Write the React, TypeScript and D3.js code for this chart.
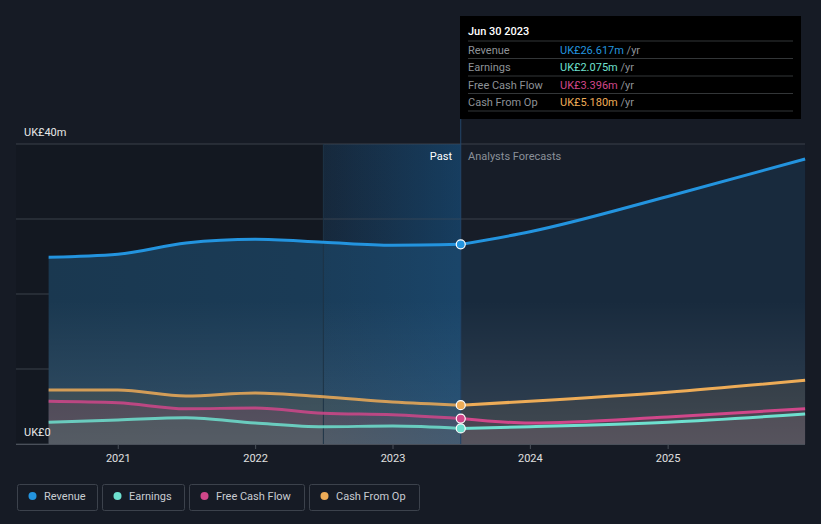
import React from "react";
import * as d3 from "d3";

const pastDates = ["2020-06-30", "2020-12-31", "2021-06-30", "2021-12-31", "2022-06-30", "2022-12-31", "2023-06-30"];
const forecastDates = ["2023-06-30", "2023-12-31", "2024-12-31", "2025-12-31"];

const revenuePast = [24.9, 25.3, 26.8, 27.3, 26.9, 26.5, 26.617];
const earningsPast = [2.9, 3.2, 3.5, 2.8, 2.3, 2.4, 2.075];
const fcfPast = [5.7, 5.5, 4.7, 4.8, 4.1, 3.9, 3.396];
const cfoPast = [7.2, 7.2, 6.4, 6.8, 6.3, 5.6, 5.18];

const revenueFc = [26.617, 28.3, 33.0, 38.0];
const earningsFc = [2.075, 2.3, 2.9, 4.0];
const fcfFc = [3.396, 2.8, 3.6, 4.7];
const cfoFc = [5.18, 5.7, 6.9, 8.5];

const yTicks = [0, 10, 20, 30, 40];
const xTickYears = [2021, 2022, 2023, 2024, 2025];

const seriesNames = ["Revenue", "Earnings", "Free Cash Flow", "Cash From Op"];
const seriesColors = ["#2394df", "#6ee0cf", "#d0478a", "#eeac57"];
const tooltipValues = ["UK£26.617m", "UK£2.075m", "UK£3.396m", "UK£5.180m"];

const W = 821, H = 524;
const x = d3.scaleTime().domain([new Date("2020-01-01"), new Date("2026-01-01")]).range([118 - 137.5, 805.5]);
const y = d3.scaleLinear().domain([0, 40]).range([444, 144]);

type Pt = { d: Date; v: number };
const mk = (dates: string[], vals: number[]): Pt[] => dates.map((d, i) => ({ d: new Date(d), v: vals[i] }));

const past = [revenuePast, earningsPast, fcfPast, cfoPast].map((s) => mk(pastDates, s));
const fc = [revenueFc, earningsFc, fcfFc, cfoFc].map((s) => mk(forecastDates, s));

const line = d3.line<Pt>().x((p) => x(p.d)).y((p) => y(p.v)).curve(d3.curveMonotoneX);
const area = d3.area<Pt>().x((p) => x(p.d)).y0(y(0)).y1((p) => y(p.v)).curve(d3.curveMonotoneX);

const font = "Roboto, 'Noto Sans', sans-serif";

export default function App() {
  const x0 = x(new Date(pastDates[0]));
  const xNow = x(new Date("2023-06-30"));
  const xHi = x(new Date("2022-06-30"));
  const xEnd = x(new Date("2025-12-31"));
  const order = [0, 3, 2, 1];
  const areaFillPast = ["url(#revPast)", "#3a5a58", "#6a3650", "#4c4a38"];
  const areaOpPast = [1, 0.35, 0.35, 0.35];
  const areaFillFc = ["#182a3d", "#50535a", "#5a2e45", "#393a3a"];
  const areaOpFc = [1, 0.35, 0.3, 0.45];
  const legendBoxes = [
    { x: 17, w: 80 },
    { x: 102, w: 82 },
    { x: 189, w: 115 },
    { x: 309, w: 110 },
  ];
  return (
    <svg width={W} height={H} style={{ display: "block", position: "absolute", left: 0, top: 0, background: "#161b25" }}>
      <defs>
        <linearGradient id="revPast" x1="0" x2="1" y1="0" y2="0">
          <stop offset="0%" stopColor="#1a3850" />
          <stop offset="100%" stopColor="#1a3d5a" />
        </linearGradient>
        <linearGradient id="hiGrad" x1="0" x2="1" y1="0" y2="0">
          <stop offset="0%" stopColor="#162536" />
          <stop offset="100%" stopColor="#15324c" />
        </linearGradient>
        <linearGradient id="hiOver" x1="0" x2="1" y1="0" y2="0">
          <stop offset="0%" stopColor="#1a5080" stopOpacity={0.08} />
          <stop offset="100%" stopColor="#1a5a90" stopOpacity={0.28} />
        </linearGradient>
        <linearGradient id="bottomShade" x1="0" x2="0" y1="0" y2="1">
          <stop offset="0%" stopColor="#ffffff" stopOpacity={0} />
          <stop offset="100%" stopColor="#ffffff" stopOpacity={0.12} />
        </linearGradient>
        <clipPath id="pastClip"><rect x={0} y={0} width={xNow} height={H} /></clipPath>
        <clipPath id="fcClip"><rect x={xNow} y={0} width={W} height={H} /></clipPath>
      </defs>
      <rect x={0} y={0} width={W} height={H} fill="#161b25" />
      <rect x={16} y={144} width={xHi - 16} height={300} fill="#131821" />
      <rect x={xHi} y={144} width={xNow - xHi} height={300} fill="url(#hiGrad)" />
      <rect x={xNow} y={144} width={xEnd - xNow} height={300} fill="#171d28" />

      {yTicks.map((t) => (
        <line key={t} x1={16} x2={805} y1={y(t)} y2={y(t)} stroke="#3a404a" strokeWidth={1} />
      ))}

      <g clipPath="url(#pastClip)">
        {order.map((i) => (
          <path key={i} d={area(past[i]) || ""} fill={areaFillPast[i]} opacity={areaOpPast[i]} />
        ))}
      </g>
      <g clipPath="url(#fcClip)">
        {order.map((i) => (
          <path key={i} d={area(fc[i]) || ""} fill={areaFillFc[i]} opacity={areaOpFc[i]} />
        ))}
      </g>
      <rect x={x0} y={300} width={xEnd - x0} height={144} fill="url(#bottomShade)" />
      <rect x={xHi} y={144} width={xNow - xHi} height={300} fill="url(#hiOver)" />
      <line x1={xHi} x2={xHi} y1={144} y2={444} stroke="#1e3346" strokeWidth={1} />
      <line x1={xNow} x2={xNow} y1={16} y2={444} stroke="#23466a" strokeWidth={1} />

      {order.map((i) => (
        <g key={i}>
          <path d={line(past[i]) || ""} fill="none" stroke={seriesColors[i]} strokeWidth={3} opacity={i === 0 ? 1 : 0.85} />
          <path d={line(fc[i]) || ""} fill="none" stroke={seriesColors[i]} strokeWidth={3} />
        </g>
      ))}
      {order.map((i) => (
        <circle key={i} cx={xNow} cy={y(past[i][past[i].length - 1].v)} r={4.5} fill={seriesColors[i]} stroke="#ffffff" strokeWidth={1.2} />
      ))}

      <line x1={16} x2={805} y1={444.5} y2={444.5} stroke="#4a505a" strokeWidth={1} />
      {xTickYears.map((yr) => {
        const xx = x(new Date(`${yr}-01-01`));
        return (
          <g key={yr}>
            <line x1={xx} x2={xx} y1={444} y2={449} stroke="#4a505a" />
            <text x={xx} y={462} fill="#e0e0e0" fontSize={11} fontFamily={font} textAnchor="middle">{yr}</text>
          </g>
        );
      })}
      <text x={24} y={136} fill="#e8e8e8" fontSize={11} fontFamily={font}>UK£40m</text>
      <text x={24} y={436} fill="#e8e8e8" fontSize={11} fontFamily={font}>UK£0</text>

      <text x={452} y={160} fill="#ffffff" fontSize={11} fontFamily={font} textAnchor="end">Past</text>
      <text x={468} y={160} fill="#8a9099" fontSize={11} fontFamily={font}>Analysts Forecasts</text>

      <rect x={460} y={16} width={341} height={103} fill="#000000" />
      <text x={468} y={35} fill="#ffffff" fontSize={11} fontFamily={font} fontWeight={500}>Jun 30 2023</text>
      {seriesNames.map((n, i) => {
        const ry = 41 + i * 17.5;
        return (
          <g key={n}>
            <line x1={468} x2={793} y1={ry} y2={ry} stroke="#333638" strokeWidth={1} />
            <text x={468} y={ry + 12.5} fill="#8e9297" fontSize={11} fontFamily={font}>{n}</text>
            <text x={560} y={ry + 12.5} fontSize={11} fontFamily={font}>
              <tspan fill={seriesColors[i]}>{tooltipValues[i]}</tspan>
              <tspan fill="#8e9297"> /yr</tspan>
            </text>
          </g>
        );
      })}
      <line x1={468} x2={793} y1={111} y2={111} stroke="#333638" strokeWidth={1} />

      {seriesNames.map((n, i) => (
        <g key={n}>
          <rect x={legendBoxes[i].x + 0.5} y={484.5} width={legendBoxes[i].w} height={26} rx={2} fill="none" stroke="#3c424c" />
          <circle cx={legendBoxes[i].x + 15.5} cy={496} r={4} fill={seriesColors[i]} />
          <text x={legendBoxes[i].x + 27} y={500} fill="#c8ccd2" fontSize={11} fontFamily={font}>{n}</text>
        </g>
      ))}
    </svg>
  );
}
